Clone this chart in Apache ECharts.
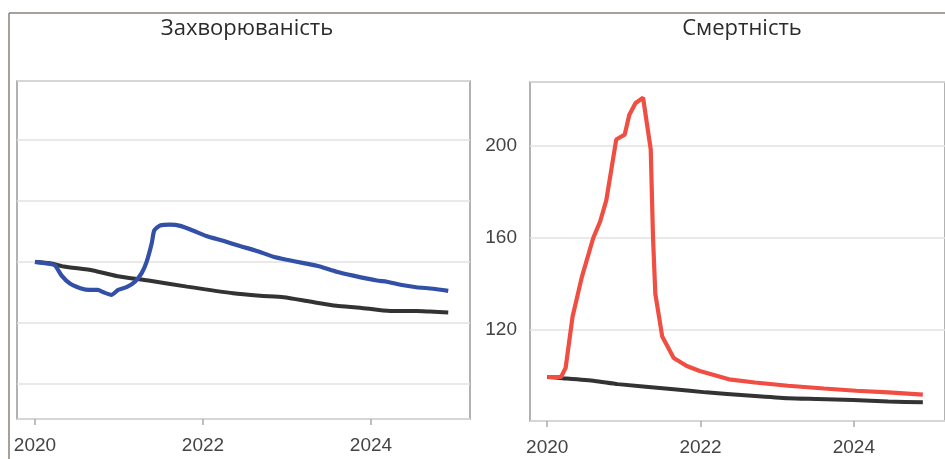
<!DOCTYPE html>
<html>
<head>
<meta charset="utf-8">
<script src="https://cdn.jsdelivr.net/npm/echarts@6/dist/echarts.min.js"></script>
<style>
  html, body { margin: 0; padding: 0; background: #fff; }
  #chart { width: 945px; height: 459px; }
</style>
</head>
<body>
<div id="chart"></div>
<script>
// Захворюваність (left panel)
const incYears = [2020.0, 2020.18, 2020.24, 2020.32, 2020.42, 2020.54, 2020.65, 2020.75, 2020.81, 2020.91,
  2020.99, 2021.09, 2021.19, 2021.27, 2021.33, 2021.39, 2021.42, 2021.49, 2021.61, 2021.73, 2021.88,
  2022.04, 2022.24, 2022.44, 2022.64, 2022.84, 2023.0, 2023.2, 2023.39, 2023.59, 2023.79, 2024.07,
  2024.19, 2024.35, 2024.54, 2024.74, 2024.92]
const incActual = [100, 99.3, 98.8, 95.4, 92.8, 91.4, 90.8, 90.8, 90.1, 89.2,
  90.8, 91.7, 93.5, 96.3, 100.1, 106.1, 110.3, 111.9, 112.2, 111.8, 110.3,
  108.5, 106.9, 105.2, 103.6, 101.7, 100.7, 99.6, 98.5, 96.8, 95.5, 93.9,
  93.5, 92.5, 91.7, 91.2, 90.5]
const incBaseYears = [2020.0, 2020.18, 2020.34, 2020.69, 2020.97, 2021.37, 2021.81, 2022.36, 2022.68,
  2022.96, 2023.27, 2023.59, 2023.87, 2024.23, 2024.54, 2024.70, 2024.92]
const incBase = [100, 99.6, 98.5, 97.2, 95.4, 93.8, 91.9, 89.7, 88.9,
  88.4, 87.0, 85.6, 85.0, 83.9, 83.9, 83.7, 83.4]

// Смертність (right panel)
const mortYears = [2020.0, 2020.18, 2020.24, 2020.33, 2020.45, 2020.60, 2020.69, 2020.77, 2020.90, 2021.01,
  2021.07, 2021.15, 2021.25, 2021.35, 2021.38, 2021.41, 2021.50, 2021.65, 2021.82, 2021.99,
  2022.37, 2022.71, 2023.14, 2023.61, 2024.03, 2024.45, 2024.90]
const mortActual = [99.2, 99.2, 103.2, 125.5, 142.7, 159.9, 167.1, 176.3, 202.9, 205.0,
  213.6, 218.7, 221.2, 198.6, 159.9, 135.5, 116.9, 107.5, 104.0, 101.8,
  98.2, 96.8, 95.4, 94.2, 93.2, 92.5, 91.5]
const mortBaseYears = [2020.0, 2020.20, 2020.62, 2020.92, 2021.65, 2022.07, 2022.62, 2023.14, 2023.52,
  2023.99, 2024.45, 2024.90]
const mortBase = [99.2, 98.7, 97.5, 96.1, 93.9, 92.5, 91.1, 89.9, 89.6, 89.2, 88.5, 88.2]

const yearTicks = [2020, 2022, 2024]
const mortTicks = [120, 160, 200]
const titles = ['Захворюваність', 'Смертність']

const zip = (xs, ys) => xs.map((x, i) => [x, ys[i]])

const labelFont = { fontFamily: 'Liberation Sans, Arial, sans-serif', fontSize: 19, color: '#444' }
const titleFont = { fontFamily: 'Open Sans, Noto Sans, sans-serif', fontSize: 22, color: '#2b2b2b', fontWeight: 'normal' }

const chart = echarts.init(document.getElementById('chart'), null, { renderer: 'canvas' })

const xAxisBase = (min, max, grid) => ({
  type: 'value',
  gridIndex: grid,
  min: min,
  max: max,
  axisLine: { show: false },
  axisTick: { show: true, length: 6, lineStyle: { color: '#aaa', width: 1.5 }, customValues: yearTicks },
  axisLabel: Object.assign({ margin: 17, customValues: yearTicks, formatter: v => String(v) }, labelFont),
  splitLine: { show: false }
})

const option = {
  animation: false,
  title: [
    { text: titles[0], left: 242, top: 13, textAlign: 'center', textStyle: titleFont },
    { text: titles[1], left: 737, top: 13, textAlign: 'center', textStyle: titleFont }
  ],
  graphic: [
    { type: 'line', shape: { x1: 9, y1: 13, x2: 945, y2: 13 }, style: { stroke: '#8a807c', lineWidth: 1.5 } },
    { type: 'line', shape: { x1: 9, y1: 13, x2: 9, y2: 459 }, style: { stroke: '#8a807c', lineWidth: 1.5 } }
  ],
  grid: [
    { left: 17, top: 81, width: 453, height: 338, show: true, borderColor: '#999', borderWidth: 1.5 },
    { left: 530, top: 82, right: -10, bottom: 38, show: true, borderColor: '#999', borderWidth: 1.5 }
  ],
  xAxis: [
    xAxisBase(2019.786, 2025.179, 0),
    xAxisBase(2019.775, 2025.189, 1)
  ],
  yAxis: [
    {
      type: 'value',
      gridIndex: 0,
      min: 48.5,
      max: 159.3,
      axisLine: { show: false },
      axisTick: { show: false },
      axisLabel: { show: false },
      splitLine: { lineStyle: { color: '#e2e2e2', width: 1.5 } }
    },
    {
      type: 'value',
      gridIndex: 1,
      min: 80,
      max: 228,
      interval: 40,
      axisLine: { show: false },
      axisTick: { show: false },
      axisLabel: Object.assign({ margin: 13, customValues: mortTicks }, labelFont),
      splitLine: { lineStyle: { color: '#e2e2e2', width: 1.5 } }
    }
  ],
  series: [
    {
      name: 'incBase', type: 'line', xAxisIndex: 0, yAxisIndex: 0, showSymbol: false, smooth: 0.2,
      lineStyle: { color: '#333', width: 4 }, data: zip(incBaseYears, incBase)
    },
    {
      name: 'incActual', type: 'line', xAxisIndex: 0, yAxisIndex: 0, showSymbol: false, smooth: 0.2,
      lineStyle: { color: '#3350a8', width: 4.2 }, data: zip(incYears, incActual)
    },
    {
      name: 'mortBase', type: 'line', xAxisIndex: 1, yAxisIndex: 1, showSymbol: false, smooth: 0.2,
      lineStyle: { color: '#333', width: 4 }, data: zip(mortBaseYears, mortBase)
    },
    {
      name: 'mortActual', type: 'line', xAxisIndex: 1, yAxisIndex: 1, showSymbol: false,
      lineStyle: { color: '#f04e42', width: 4.2 }, data: zip(mortYears, mortActual)
    }
  ]
}

chart.setOption(option)
</script>
</body>
</html>
